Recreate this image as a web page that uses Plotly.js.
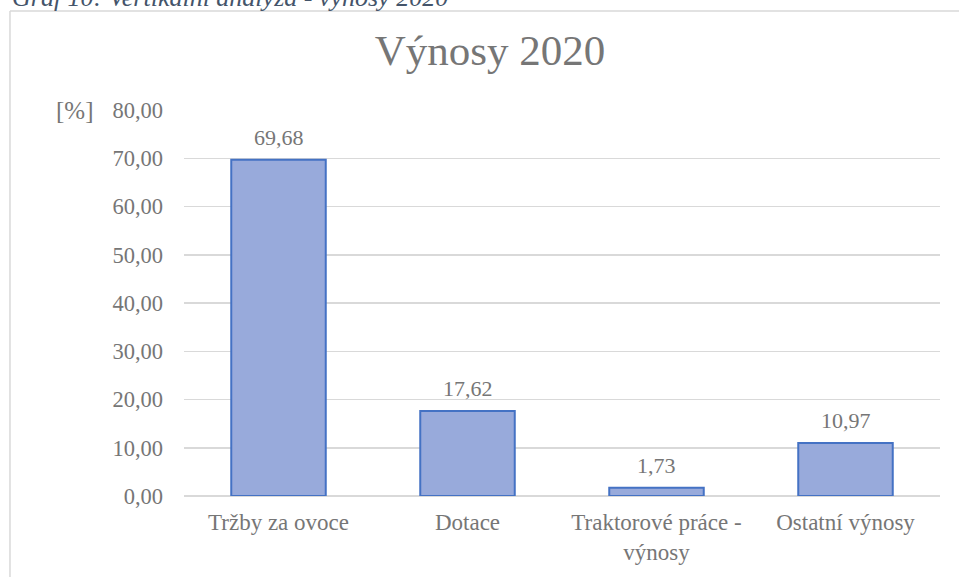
<!DOCTYPE html>
<html>
<head>
<meta charset="utf-8">
<script src="https://cdn.plot.ly/plotly-3.0.1.min.js"></script>
<style>
  html, body { margin: 0; padding: 0; background: #fff; }
  #plot { width: 959px; height: 577px; }
</style>
</head>
<body>
<div id="plot"></div>
<script>
// categories and values (%)
var categories = ["Tržby za ovoce", "Dotace", "Traktorové práce -<br>výnosy", "Ostatní výnosy"];
var shares = [69.68, 17.62, 1.73, 10.97];
var yTicks = [0, 10, 20, 30, 40, 50, 60, 70, 80];

var grey = "#767676";
var serif = "Liberation Serif, Times New Roman, serif";

var trace = {
  x: categories,
  y: shares,
  type: "bar",
  width: 0.5,
  marker: {
    color: "#98aadb",
    line: { color: "#4472c4", width: 2 }
  },
  hoverinfo: "x+y"
};

// value labels above the bars
var valueLabels = categories.map(function (c, i) {
  return {
    x: c, y: shares[i], xref: "x", yref: "y",
    text: shares[i].toFixed(2).replace(".", ","),
    showarrow: false, yanchor: "bottom", yshift: 8,
    font: { family: serif, size: 22, color: grey }
  };
});

var layout = {
  width: 959,
  height: 577,
  separators: ", ",
  paper_bgcolor: "#fff",
  plot_bgcolor: "#fff",
  margin: { l: 184, r: 19, t: 110, b: 81 },
  showlegend: false,
  title: {
    text: "Výnosy 2020",
    font: { family: serif, size: 43, color: grey },
    x: 0.511,
    xanchor: "center",
    yref: "container",
    y: 0.913,
    yanchor: "middle"
  },
  xaxis: {
    showgrid: false,
    zeroline: false,
    showline: false,
    ticks: "",
    ticklabelstandoff: 10,
    tickfont: { family: serif, size: 23, color: grey }
  },
  yaxis: {
    range: [0, 80],
    tickvals: yTicks,
    tickformat: ".2f",
    showgrid: true,
    gridcolor: "#d9d9d9",
    gridwidth: 1.5,
    zeroline: true,
    zerolinecolor: "#d9d9d9",
    zerolinewidth: 1.5,
    showline: false,
    ticks: "",
    ticklabelstandoff: 20,
    tickfont: { family: serif, size: 22.5, color: grey }
  },
  shapes: [
    // chart frame (left and top edge)
    { type: "line", xref: "paper", yref: "paper", x0: -0.2302, x1: -0.2302, y0: -0.3, y1: 1.2565,
      line: { color: "#d9d9d9", width: 1.5 } },
    { type: "line", xref: "paper", yref: "paper", x0: -0.2302, x1: 1.03, y0: 1.2565, y1: 1.2565,
      line: { color: "#d9d9d9", width: 1.5 } }
  ],
  annotations: [
    { text: "[%]", xref: "paper", yref: "paper", x: -0.1177, y: 1.0, xanchor: "right", yanchor: "middle",
      showarrow: false, font: { family: serif, size: 25, color: grey } },
    { text: "<i>Graf 10: Vertikální analýza - výnosy 2020</i>", xref: "paper", yref: "paper",
      x: -0.2302, y: 1.2927, xanchor: "left", yanchor: "middle", showarrow: false,
      font: { family: serif, size: 26, color: "#44546a" } }
  ].concat(valueLabels)
};

Plotly.newPlot("plot", [trace], layout, { displayModeBar: false, staticPlot: true });
</script>
</body>
</html>
